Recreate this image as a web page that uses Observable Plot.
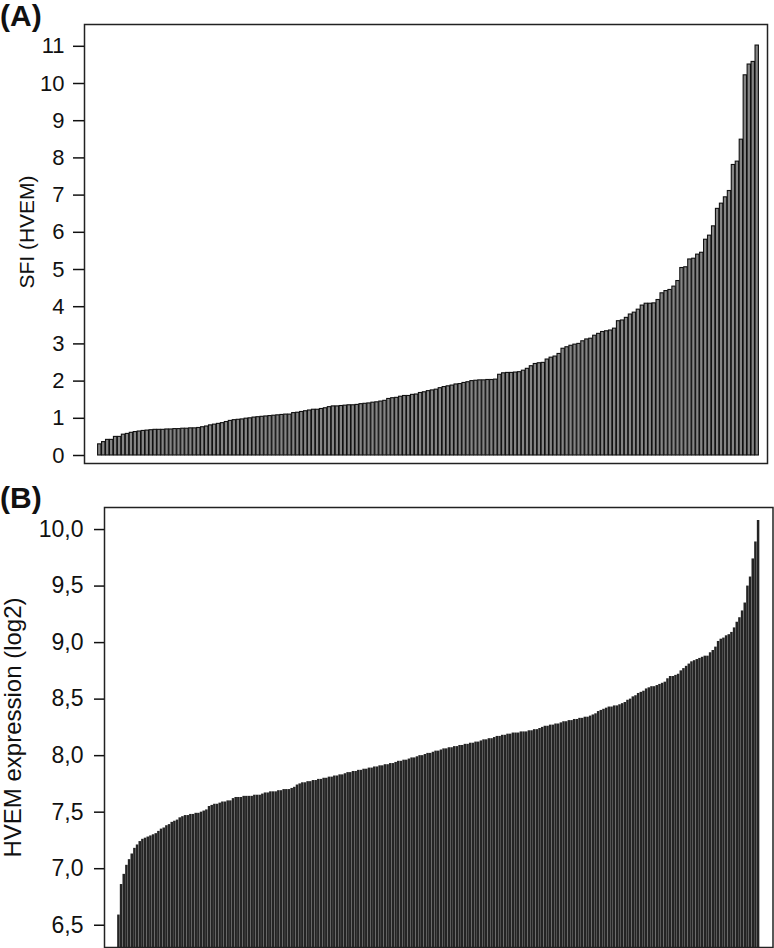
<!DOCTYPE html>
<html><head><meta charset="utf-8">
<script src="https://cdn.jsdelivr.net/npm/d3@7"></script>
<script src="https://cdn.jsdelivr.net/npm/@observablehq/plot@0.6"></script>
<style>
body{margin:0;background:#fff;}
#wrap{position:relative;width:774px;height:948px;overflow:hidden;font-family:"Liberation Sans",Arial,sans-serif;background:#fff;}
.panel{position:absolute;left:0;font-weight:bold;font-size:30px;line-height:1;color:#111;}
#wrap svg{display:block}
</style></head><body>
<div id="wrap"></div>
<script>
// Panel A: SFI (HVEM), sorted ascending
const sfiValues = [
  0.30, 0.36, 0.42, 0.42, 0.50, 0.50, 0.56, 0.58, 0.61, 0.63, 0.645, 0.66, 0.67, 0.68, 0.69, 0.69, 0.69, 0.70, 0.70, 0.71, 0.71, 0.72, 0.72, 0.73, 0.73, 0.74,
  0.76, 0.78, 0.81, 0.83, 0.85, 0.87, 0.90, 0.93, 0.95, 0.96, 0.97, 0.99, 1.00, 1.02, 1.03, 1.04, 1.05, 1.06, 1.07, 1.08, 1.09, 1.10, 1.10, 1.14, 1.15, 1.17,
  1.19, 1.21, 1.23, 1.23, 1.25, 1.27, 1.30, 1.32, 1.32, 1.33, 1.34, 1.35, 1.35, 1.36, 1.38, 1.39, 1.40, 1.42, 1.43, 1.45, 1.47, 1.52, 1.54, 1.55, 1.58, 1.60,
  1.60, 1.63, 1.64, 1.68, 1.70, 1.73, 1.75, 1.77, 1.81, 1.84, 1.86, 1.88, 1.91, 1.92, 1.95, 1.97, 2.00, 2.01,
  2.02, 2.02, 2.03, 2.03, 2.04,
  2.17, 2.21, 2.22, 2.22, 2.23, 2.24, 2.28, 2.33, 2.40, 2.46, 2.48, 2.49, 2.58, 2.63, 2.66, 2.73, 2.87, 2.91, 2.95, 2.98,
  3.00, 3.07, 3.12, 3.14, 3.22, 3.27, 3.32, 3.34, 3.36, 3.41, 3.61, 3.63, 3.70, 3.79, 3.84, 3.92, 4.03, 4.08, 4.08, 4.09,
  4.18, 4.36, 4.42, 4.45, 4.54, 4.69, 5.04, 5.06, 5.27, 5.29, 5.40, 5.45, 5.80, 5.91, 6.16, 6.63, 6.77, 6.94, 7.11, 7.81,
  7.90, 8.49, 10.22, 10.51, 10.58, 11.02
];
// Panel B: HVEM expression (log2), sorted ascending
const hvemValues = [
  6.59, 6.86, 6.95, 7.03, 7.08, 7.13, 7.18, 7.21, 7.24, 7.26,
  7.27, 7.28, 7.29, 7.30, 7.31, 7.33, 7.35, 7.36, 7.38, 7.39,
  7.41, 7.42, 7.43, 7.45, 7.46, 7.47, 7.47, 7.48, 7.48, 7.49,
  7.49, 7.50, 7.51, 7.52, 7.55, 7.56, 7.57, 7.57, 7.58, 7.59,
  7.59, 7.60, 7.60, 7.62, 7.63, 7.63, 7.63, 7.64, 7.64, 7.64,
  7.64, 7.65, 7.65, 7.65, 7.66, 7.67, 7.67, 7.68, 7.68, 7.68,
  7.69, 7.69, 7.70, 7.70, 7.70, 7.71, 7.72, 7.74, 7.75, 7.76,
  7.76, 7.77, 7.77, 7.78, 7.78, 7.79, 7.79, 7.80, 7.80, 7.81,
  7.81, 7.82, 7.82, 7.83, 7.83, 7.84, 7.85, 7.85, 7.86, 7.86,
  7.87, 7.87, 7.88, 7.88, 7.89, 7.89, 7.90, 7.90, 7.91, 7.91,
  7.92, 7.92, 7.93, 7.93, 7.94, 7.95, 7.95, 7.96, 7.96, 7.97,
  7.98, 7.98, 7.99, 8.00, 8.00, 8.01, 8.02, 8.02, 8.03, 8.04,
  8.04, 8.05, 8.06, 8.06, 8.07, 8.07, 8.08, 8.08, 8.09, 8.09,
  8.10, 8.10, 8.11, 8.11, 8.12, 8.12, 8.13, 8.14, 8.14, 8.15,
  8.15, 8.16, 8.17, 8.17, 8.18, 8.18, 8.19, 8.19, 8.20, 8.20,
  8.20, 8.21, 8.21, 8.21, 8.22, 8.22, 8.23, 8.23, 8.24, 8.25,
  8.26, 8.26, 8.27, 8.27, 8.28, 8.28, 8.29, 8.30, 8.30, 8.31,
  8.31, 8.32, 8.32, 8.33, 8.33, 8.34, 8.34, 8.35, 8.36, 8.37,
  8.39, 8.40, 8.41, 8.42, 8.43, 8.43, 8.44, 8.44, 8.45, 8.46,
  8.47, 8.49, 8.50, 8.52, 8.53, 8.55, 8.56, 8.57, 8.59, 8.60,
  8.61, 8.61, 8.62, 8.63, 8.64, 8.65, 8.68, 8.70, 8.70, 8.71,
  8.72, 8.75, 8.77, 8.79, 8.81, 8.83, 8.84, 8.85, 8.86, 8.87,
  8.88, 8.88, 8.91, 8.93, 8.96, 9.01, 9.03, 9.04, 9.06, 9.07,
  9.09, 9.13, 9.18, 9.22, 9.28, 9.35, 9.50, 9.58, 9.74, 9.89, 10.08
];
const sfiTicks = [0, 1, 2, 3, 4, 5, 6, 7, 8, 9, 10, 11];
const hvemTicks = [6.5, 7.0, 7.5, 8.0, 8.5, 9.0, 9.5, 10.0];
const panelLabels = ["(A)", "(B)"];
const sfiLabel = "SFI (HVEM)";
const hvemLabel = "HVEM expression (log2)";

const font = "'Liberation Sans', Arial, Helvetica, sans-serif";
const wrap = document.getElementById("wrap");

const dataA = sfiValues.map((v, i) => ({i, v}));
const dataB = hvemValues.map((v, i) => ({i, v}));

const plotA = Plot.plot({
  width: 774, height: 470,
  marginLeft: 84, marginRight: 7, marginTop: 24, marginBottom: 7,
  style: {fontFamily: font, color: "#111", background: "#fff", overflow: "visible"},
  x: {type: "band", domain: dataA.map(d => d.i), padding: 0.15, insetLeft: 13, insetRight: 8, axis: null},
  y: {domain: [-0.215, 11.586]},
  marks: [
    Plot.barY(dataA, {x: "i", y: "v", fill: "#858585", stroke: "#111", strokeWidth: 1.1}),
    Plot.frame({stroke: "#222", strokeWidth: 1.5}),
    Plot.axisY(sfiTicks, {tickSize: 11, tickPadding: 9, fontSize: 22, strokeWidth: 1.5, stroke: "#111", fill: "#111", label: null}),
    Plot.text([sfiLabel], {frameAnchor: "left", textAnchor: "middle", rotate: -90, dx: -57, dy: -12, fontSize: 21, fill: "#111"})
  ]
});

const plotB = Plot.plot({
  width: 774, height: 478,
  marginLeft: 104, marginRight: 1.5, marginTop: 37, marginBottom: 1,
  style: {fontFamily: font, color: "#111", background: "#fff", overflow: "visible"},
  x: {type: "band", domain: dataB.map(d => d.i), padding: 0.06, insetLeft: 13, insetRight: 13, axis: null},
  y: {domain: [6.303, 10.195]},
  marks: [
    Plot.barY(dataB, {x: "i", y1: 6.0, y2: "v", fill: "#242424", clip: true}),
    Plot.frame({stroke: "#222", strokeWidth: 1.5}),
    Plot.axisY(hvemTicks, {tickSize: 10, tickPadding: 11, fontSize: 23, strokeWidth: 1.5, stroke: "#111", fill: "#111",
      tickFormat: d => d3.format(".1f")(d).replace(".", ","), label: null}),
    Plot.text([hvemLabel], {frameAnchor: "left", textAnchor: "middle", rotate: -90, dx: -91, fontSize: 24, fill: "#111"})
  ]
});

const divA = document.createElement("div");
divA.style.cssText = "position:absolute;left:0;top:0;";
divA.appendChild(plotA);
const divB = document.createElement("div");
divB.style.cssText = "position:absolute;left:0;top:470px;";
divB.appendChild(plotB);
wrap.appendChild(divA);
wrap.appendChild(divB);

const labTops = [1, 483];
panelLabels.forEach((t, k) => {
  const d = document.createElement("div");
  d.className = "panel";
  d.style.top = labTops[k] + "px";
  d.textContent = t;
  wrap.appendChild(d);
});
</script>
</body></html>
